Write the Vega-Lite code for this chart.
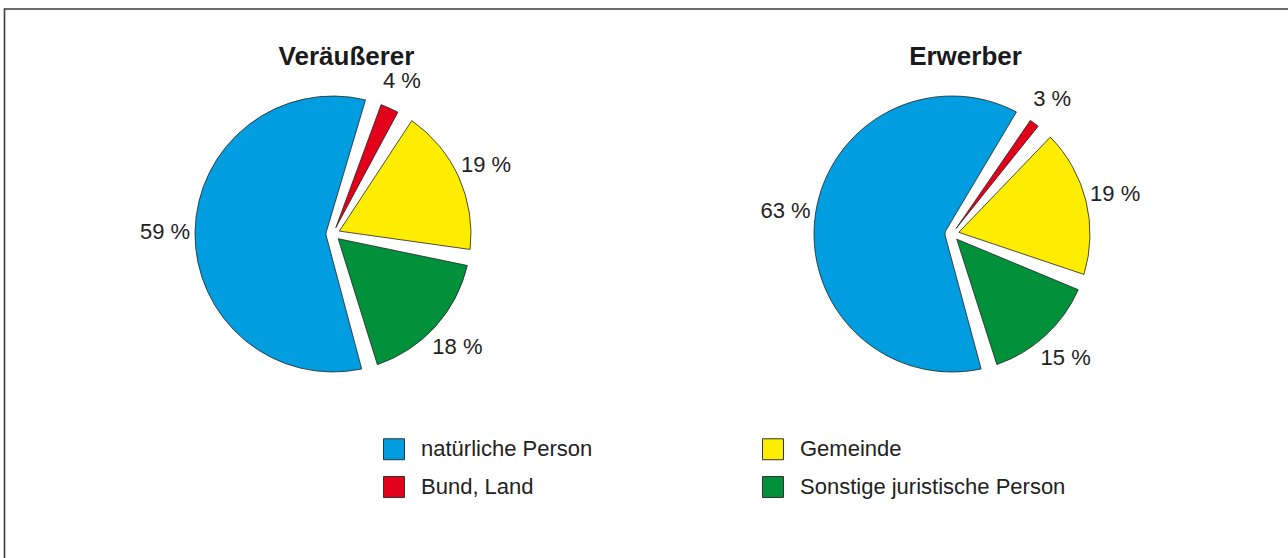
{
  "$schema": "https://vega.github.io/schema/vega-lite/v6.json",
  "width": 1288,
  "height": 558,
  "autosize": {"type": "fit", "contains": "padding"},
  "padding": {"left": 4.5, "top": 9, "right": -10, "bottom": -10},
  "background": "white",
  "config": {
    "view": {"stroke": "#3a3a3a", "strokeWidth": 1.6},
    "font": "Liberation Sans"
  },
  "data": {
    "values": [
      {"Diagramm": "Veräußerer", "Kategorie": "natürliche Person", "Anteil": 59, "Label": "59 %"},
      {"Diagramm": "Veräußerer", "Kategorie": "Bund, Land", "Anteil": 4, "Label": "4 %"},
      {"Diagramm": "Veräußerer", "Kategorie": "Gemeinde", "Anteil": 19, "Label": "19 %"},
      {"Diagramm": "Veräußerer", "Kategorie": "Sonstige juristische Person", "Anteil": 18, "Label": "18 %"},
      {"Diagramm": "Erwerber", "Kategorie": "natürliche Person", "Anteil": 63, "Label": "63 %"},
      {"Diagramm": "Erwerber", "Kategorie": "Bund, Land", "Anteil": 3, "Label": "3 %"},
      {"Diagramm": "Erwerber", "Kategorie": "Gemeinde", "Anteil": 19, "Label": "19 %"},
      {"Diagramm": "Erwerber", "Kategorie": "Sonstige juristische Person", "Anteil": 15, "Label": "15 %"}
    ]
  },
  "encoding": {
    "x": {
      "field": "Diagramm",
      "type": "nominal",
      "scale": {"type": "point", "padding": 0, "domain": ["Veräußerer", "Erwerber"], "range": [328.5, 947.5]},
      "axis": {
        "orient": "top",
        "title": null,
        "domain": false,
        "ticks": false,
        "tickSize": 0,
        "grid": false,
        "labelAngle": 0,
        "labelFont": "Liberation Sans",
        "labelFontSize": 26,
        "labelFontWeight": "bold",
        "labelColor": "#1a1a1a",
        "labelBaseline": "middle",
        "labelPadding": -47,
        "labelOffset": 13
      }
    },
    "color": {
      "field": "Kategorie",
      "type": "nominal",
      "scale": {
        "domain": ["natürliche Person", "Bund, Land", "Gemeinde", "Sonstige juristische Person"],
        "range": ["#009EE0", "#E2001A", "#FFED00", "#00913A"]
      },
      "legend": {
        "orient": "none",
        "legendX": 378.5,
        "legendY": 429,
        "columns": 2,
        "title": null,
        "padding": 0,
        "symbolType": "square",
        "symbolSize": 440,
        "symbolStrokeColor": "#333333",
        "symbolStrokeWidth": 1,
        "symbolOpacity": 1,
        "labelFont": "Liberation Sans",
        "labelFontSize": 22,
        "labelColor": "#222222",
        "labelLimit": 400,
        "labelOffset": 16,
        "rowPadding": 12,
        "columnPadding": 167
      }
    },
    "order": {"field": "Kategorie", "type": "nominal", "sort": "ascending"}
  },
  "layer": [
    {
      "transform": [{"filter": "datum.Diagramm === 'Veräußerer'"}],
      "encoding": {
        "theta": {"field": "Anteil", "type": "quantitative", "stack": true, "scale": {"range": [0.297, 6.580]}}
      },
      "layer": [
        {"mark": {"type": "arc", "radius": 138, "radius2": 7, "padAngle": 0.118, "stroke": "#222222", "strokeWidth": 0.8, "yOffset": -54.5}},
        {"mark": {"type": "text", "radius": 168, "yOffset": -54.5, "fontSize": 22, "font": "Liberation Sans", "fill": "#222222", "align": "center", "baseline": "middle"},
         "encoding": {"text": {"field": "Label"}, "color": {"value": "#222222"}}}
      ]
    },
    {
      "transform": [{"filter": "datum.Diagramm === 'Erwerber'"}],
      "encoding": {
        "theta": {"field": "Anteil", "type": "quantitative", "stack": true, "scale": {"range": [0.545, 6.828]}}
      },
      "layer": [
        {"mark": {"type": "arc", "radius": 138, "radius2": 7, "padAngle": 0.118, "stroke": "#222222", "strokeWidth": 0.8, "yOffset": -54.5}},
        {"mark": {"type": "text", "radius": 168, "yOffset": -54.5, "fontSize": 22, "font": "Liberation Sans", "fill": "#222222", "align": "center", "baseline": "middle"},
         "encoding": {"text": {"field": "Label"}, "color": {"value": "#222222"}}}
      ]
    }
  ],
  "resolve": {"scale": {"theta": "independent"}}
}
